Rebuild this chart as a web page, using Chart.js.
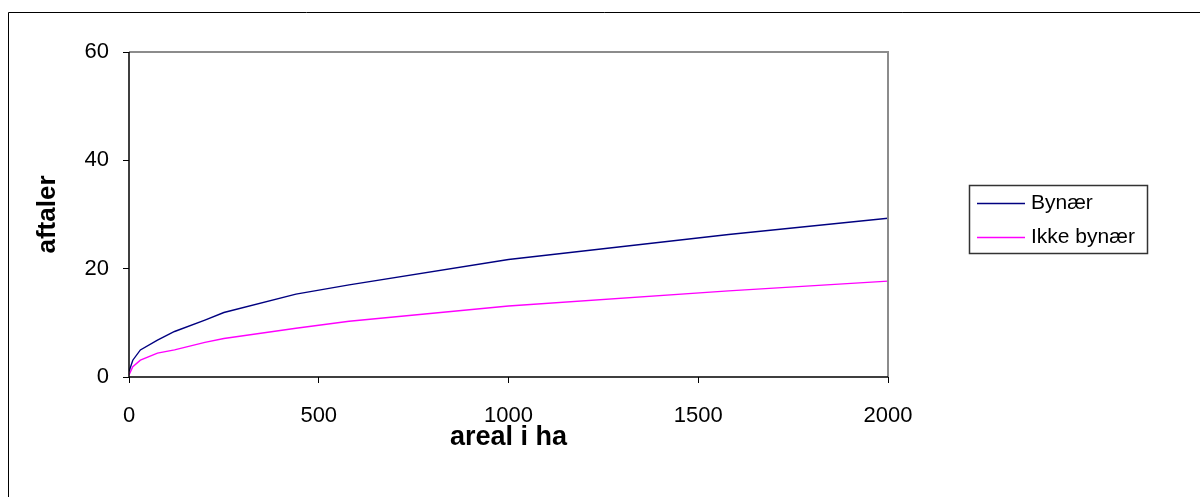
<!DOCTYPE html>
<html>
<head>
<meta charset="utf-8">
<script src="https://cdn.jsdelivr.net/npm/chart.js@4.4.1/dist/chart.umd.min.js"></script>
<style>
  html, body { margin: 0; padding: 0; background: #fff; }
  #wrap { width: 1200px; height: 497px; }
</style>
</head>
<body>
<div id="wrap"><canvas id="areaChart" width="1200" height="497"></canvas></div>
<script>
// values (areal i ha -> aftaler)
const arealX = [0, 10, 30, 75, 120, 200, 250, 440, 580, 1000, 1580, 2000];
const bynaer = [1.0, 3.1, 5.0, 6.8, 8.4, 10.5, 11.9, 15.3, 17.0, 21.7, 26.3, 29.3];
const ikkeBynaer = [0.4, 1.9, 3.1, 4.4, 5.0, 6.4, 7.1, 9.0, 10.3, 13.1, 15.9, 17.7];
const seriesNames = ["Bynær", "Ikke bynær"];
const xTicks = [0, 500, 1000, 1500, 2000];
const yTicks = [0, 20, 40, 60];

const toPoints = (xs, ys) => xs.map((x, i) => ({x: x, y: ys[i]}));
const FONT = '"Liberation Sans", Arial, sans-serif';

// outer frame, plot frame and legend box
const framePlugin = {
  id: 'frame',
  beforeDraw(chart) {
    const c = chart.ctx;
    c.save();
    c.fillStyle = '#fff';
    c.fillRect(0, 0, chart.width, chart.height);
    c.strokeStyle = '#000';
    c.lineWidth = 1;
    c.beginPath();
    c.moveTo(8.5, 520);
    c.lineTo(8.5, 12.5);
    c.lineTo(1210, 12.5);
    c.stroke();
    c.restore();
  },
  afterDatasetsDraw(chart) {
    const a = chart.chartArea;
    const c = chart.ctx;
    c.save();
    c.strokeStyle = '#8c8c8c';
    c.lineWidth = 2;
    c.beginPath();
    c.moveTo(a.left, a.top);
    c.lineTo(a.right, a.top);
    c.lineTo(a.right, a.bottom);
    c.stroke();
    c.strokeStyle = '#000';
    c.lineWidth = 1.5;
    c.beginPath();
    c.moveTo(a.left, a.top);
    c.lineTo(a.left, a.bottom);
    c.lineTo(a.right, a.bottom);
    c.stroke();

    // legend
    c.strokeStyle = '#333';
    c.lineWidth = 1.5;
    c.strokeRect(969.5, 185.5, 178, 68);
    c.font = '21px ' + FONT;
    c.textBaseline = 'middle';
    c.fillStyle = '#000';
    chart.data.datasets.forEach((ds, i) => {
      const y = 203 + i * 34;
      c.strokeStyle = ds.borderColor;
      c.lineWidth = 1.3;
      c.beginPath();
      c.moveTo(977, y + 0.5);
      c.lineTo(1025, y + 0.5);
      c.stroke();
      c.fillText(ds.label, 1031, y);
    });
    c.restore();
  }
};

const ctx = document.getElementById('areaChart').getContext('2d');
new Chart(ctx, {
  type: 'scatter',
  data: {
    datasets: [{
      label: seriesNames[0],
      data: toPoints(arealX, bynaer),
      borderColor: '#000080',
      showLine: true,
      borderWidth: 1.4,
      pointRadius: 0,
      tension: 0
    }, {
      label: seriesNames[1],
      data: toPoints(arealX, ikkeBynaer),
      borderColor: '#ff00ff',
      showLine: true,
      borderWidth: 1.4,
      pointRadius: 0,
      tension: 0
    }]
  },
  options: {
    responsive: false,
    animation: false,
    layout: { padding: { left: 0, top: 52, right: 312, bottom: 0 } },
    plugins: { legend: { display: false }, tooltip: { enabled: false } },
    scales: {
      x: {
        type: 'linear',
        min: 0,
        max: 2000,
        afterBuildTicks: s => { s.ticks = xTicks.map(v => ({value: v})); },
        afterFit: s => { s.height = 120; },
        ticks: {
          color: '#000',
          padding: 20,
          maxRotation: 0,
          callback: v => String(v),
          font: { family: FONT, size: 22 }
        },
        grid: { drawOnChartArea: false, tickLength: 6, color: '#000' },
        border: { display: false },
        title: {
          display: true,
          text: 'areal i ha',
          color: '#000',
          padding: { top: 0, bottom: 43 },
          font: { family: FONT, size: 27, weight: 'bold' }
        }
      },
      y: {
        min: 0,
        max: 60,
        afterBuildTicks: s => { s.ticks = yTicks.map(v => ({value: v})); },
        afterFit: s => { s.width = 129; },
        ticks: {
          color: '#000',
          padding: 14,
          callback: v => String(v),
          font: { family: FONT, size: 22 }
        },
        grid: { drawOnChartArea: false, tickLength: 6, color: '#000' },
        border: { display: false },
        title: {
          display: true,
          text: 'aftaler',
          color: '#000',
          padding: { top: 32, bottom: 0 },
          font: { family: FONT, size: 26, weight: 'bold' }
        }
      }
    }
  },
  plugins: [framePlugin]
});
</script>
</body>
</html>
